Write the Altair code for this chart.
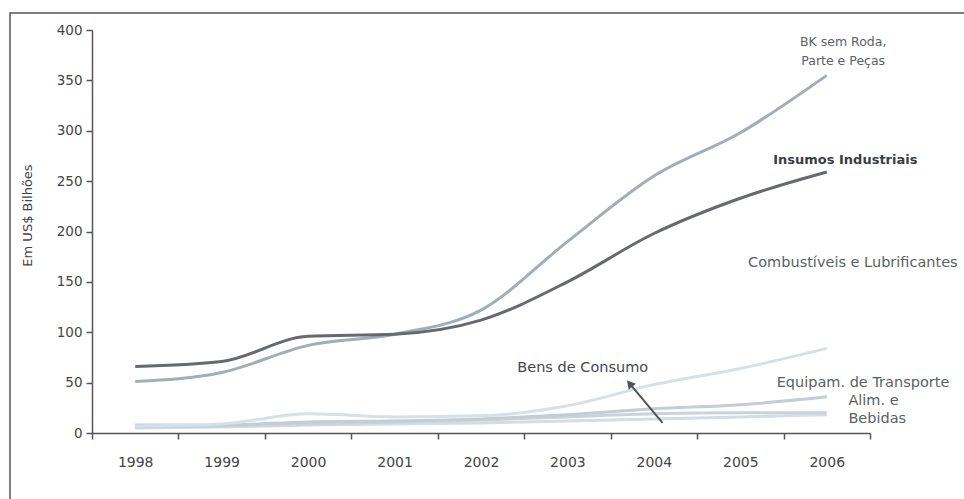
import altair as alt
import pandas as pd

years = [1998, 1999, 2000, 2001, 2002, 2003, 2004, 2005, 2006]
bk = [51, 60, 87, 98, 122, 190, 255, 298, 355]
insumos = [66, 71, 96, 98, 112, 150, 198, 233, 259]
combust = [7, 9, 19, 16, 17, 27, 48, 64, 84]
equip = [8, 8, 11, 12, 14, 18, 24, 28, 36]
alim = [6, 7, 9, 11, 13, 16, 19, 20, 20]
bens = [5, 6, 8, 9, 10, 12, 14, 16, 18]

series_names = ["Bens de Consumo", "Alim. e Bebidas", "Equipam. de Transporte",
                "Combustíveis e Lubrificantes", "BK sem Roda, Parte e Peças",
                "Insumos Industriais"]
series_vals = [bens, alim, equip, combust, bk, insumos]
series_colors = ["#d4dde3", "#c9d3da", "#c2cdd5", "#d6e0e5", "#a2adb5", "#66696d"]

x_ticks = [1997.5, 1998.5, 1999.5, 2000.5, 2001.5, 2002.5, 2003.5, 2004.5, 2005.5, 2006.5]
y_ticks = [0, 50, 100, 150, 200, 250, 300, 350, 400]

label_text = ["BK sem Roda,", "Parte e Peças", "Insumos Industriais",
              "Combustíveis e Lubrificantes", "Bens de Consumo",
              "Equipam. de Transporte", "Alim. e", "Bebidas"]
label_x = [2006.19, 2006.19, 2005.38, 2005.09, 2002.42, 2005.42, 2006.25, 2006.25]
label_y = [388, 369, 271, 168.5, 65, 50, 32, 14]
label_kind = ["small", "small", "bold", "wide", "wide", "wide", "wide", "wide"]
label_color = ["#5a5f63", "#5a5f63", "#3a3d40", "#5a5f63", "#45484b", "#5a5f63", "#5a5f63", "#5a5f63"]

arrow_x = [2004.1, 2003.72]
arrow_y = [10, 49]

rows = []
for name, vals in zip(series_names, series_vals):
    for yr, v in zip(years, vals):
        rows.append({"ano": yr, "valor": v, "serie": name})
df = pd.DataFrame(rows)

labels = pd.DataFrame({"t": label_text, "x": label_x, "y": label_y,
                       "k": label_kind, "c": label_color})
arrow = pd.DataFrame({"x": arrow_x, "y": arrow_y, "order": [0, 1]})

W, H = 778, 403

xscale = alt.Scale(domain=[1997.5, 2006.5], nice=False, zero=False)
yscale = alt.Scale(domain=[0, 400], nice=False)

frame = alt.Chart(pd.DataFrame({"a": [0]})).mark_rect(
    filled=False, stroke="#555555", strokeWidth=1.5
).encode(x=alt.value(-82), x2=alt.value(1100), y=alt.value(-17), y2=alt.value(700))

lines = alt.Chart(df).mark_line(interpolate="monotone", strokeWidth=3).encode(
    x=alt.X("ano:Q", scale=xscale,
            axis=alt.Axis(values=x_ticks, title=None, grid=False,
                          labelExpr="datum.value > 2006 ? '' : toString(datum.value + 0.5)",
                          labelOffset=43.2, labelFlush=False, labelPadding=16,
                          tickSize=6, labelFontSize=14, labelOverlap=False)),
    y=alt.Y("valor:Q", scale=yscale,
            axis=alt.Axis(values=y_ticks, title="Em US$ Bilhões", grid=False,
                          tickSize=6, labelPadding=4, labelFontSize=13.5,
                          titleFontSize=13, titleFontWeight="normal",
                          titleX=-58, titleY=185, titleColor="#444444")),
    color=alt.Color("serie:N", scale=alt.Scale(domain=series_names, range=series_colors),
                    legend=None),
    order=alt.Order("serie:N"),
    detail="serie:N",
)

def text_layer(kind, align, size, weight):
    return alt.Chart(labels[labels["k"] == kind]).mark_text(
        align=align, baseline="middle", fontSize=size, font="DejaVu Sans", fontWeight=weight
    ).encode(x=alt.X("x:Q", scale=xscale), y=alt.Y("y:Q", scale=yscale), text="t:N",
             color=alt.Color("c:N", scale=None))

txt_small = text_layer("small", "center", 12.5, "normal")
txt_bold = text_layer("bold", "left", 13, "bold")
txt_wide = text_layer("wide", "left", 14.5, "normal")

arrow_line = alt.Chart(arrow).mark_line(color="#505458", strokeWidth=2).encode(
    x=alt.X("x:Q", scale=xscale), y=alt.Y("y:Q", scale=yscale), order="order:Q")

arrow_head = alt.Chart(arrow[arrow["order"] == 1]).mark_point(
    shape="triangle-up", filled=True, color="#505458", size=90, angle=320, opacity=1
).encode(x=alt.X("x:Q", scale=xscale), y=alt.Y("y:Q", scale=yscale))

chart = alt.layer(frame, lines, arrow_line, arrow_head, txt_small, txt_bold, txt_wide).properties(
    width=W, height=H,
    autosize=alt.AutoSizeParams(type="none"),
    padding={"left": 92, "top": 30, "right": 94, "bottom": 66},
    background="white",
).configure_view(stroke=None).configure_axis(
    domainColor="#555555", tickColor="#555555", labelColor="#444444",
    labelFont="DejaVu Sans", titleFont="DejaVu Sans", domainWidth=1.5, tickWidth=1.5,
)

chart.save("out.html", embed_options={"renderer": "svg", "actions": False})
